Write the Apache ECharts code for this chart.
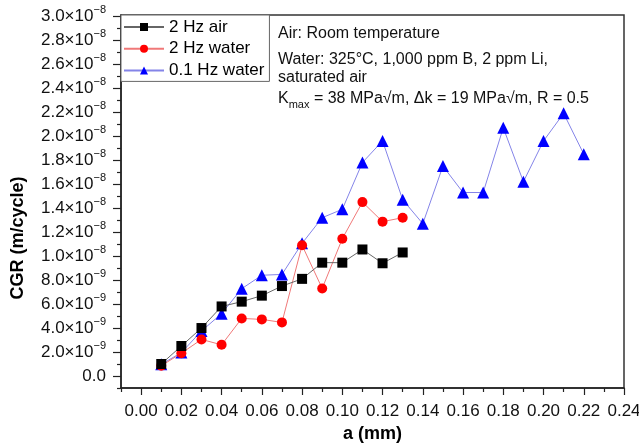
<!DOCTYPE html>
<html>
<head>
<meta charset="utf-8">
<script src="https://cdn.jsdelivr.net/npm/echarts@6/dist/echarts.min.js"></script>
<style>
  html, body { margin: 0; padding: 0; background: #fff; }
  #chart { width: 639px; height: 446px; }
</style>
</head>
<body>
<div id="chart"></div>
<script>
// crack length a (mm)
var aValues = [0.01, 0.02, 0.03, 0.04, 0.05, 0.06, 0.07, 0.08, 0.09, 0.10, 0.11, 0.12, 0.13,
    0.14, 0.15, 0.16, 0.17, 0.18, 0.19, 0.20, 0.21, 0.22];
// CGR (m/cycle)
var air2Hz = [1.0e-9, 2.5e-9, 4.0e-9, 5.8e-9, 6.2e-9, 6.7e-9, 7.5e-9, 8.1e-9, 9.45e-9, 9.45e-9,
    1.055e-8, 9.4e-9, 1.03e-8];
var water2Hz = [0.85e-9, 1.9e-9, 3.05e-9, 2.6e-9, 4.8e-9, 4.72e-9, 4.47e-9, 1.09e-8, 7.3e-9,
    1.145e-8, 1.45e-8, 1.287e-8, 1.32e-8];
var water01Hz = [0.97e-9, 1.95e-9, 3.75e-9, 5.2e-9, 7.28e-9, 8.4e-9, 8.47e-9, 1.106e-8, 1.32e-8,
    1.39e-8, 1.78e-8, 1.96e-8, 1.47e-8, 1.27e-8, 1.75e-8, 1.53e-8, 1.53e-8, 2.07e-8, 1.62e-8,
    1.96e-8, 2.19e-8, 1.85e-8];

var xMajor = [0, 0.02, 0.04, 0.06, 0.08, 0.10, 0.12, 0.14, 0.16, 0.18, 0.20, 0.22, 0.24];
var xMinor = [-0.01, 0.01, 0.03, 0.05, 0.07, 0.09, 0.11, 0.13, 0.15, 0.17, 0.19, 0.21, 0.23];
var yMajor = [0, 2e-9, 4e-9, 6e-9, 8e-9, 1e-8, 1.2e-8, 1.4e-8, 1.6e-8, 1.8e-8, 2.0e-8, 2.2e-8,
    2.4e-8, 2.6e-8, 2.8e-8, 3.0e-8];
var yMinor = [-1e-9, 1e-9, 3e-9, 5e-9, 7e-9, 9e-9, 1.1e-8, 1.3e-8, 1.5e-8, 1.7e-8, 1.9e-8,
    2.1e-8, 2.3e-8, 2.5e-8, 2.7e-8, 2.9e-8];

function pairs(ys) {
    return ys.map(function (y, i) { return [aValues[i], y]; });
}

function sciLabel(v) {
    if (Math.abs(v) < 1e-13) {
        return '{m|0.0}';
    }
    var exp = Math.floor(Math.log10(v) + 1e-9);
    var mant = (v / Math.pow(10, exp)).toFixed(1);
    return '{m|' + mant + '×10}{s|−' + (-exp) + '}';
}

var FONT = '"Liberation Sans", Arial, Helvetica, sans-serif';
var tickLine = { color: '#222', width: 1.2 };
var chart = echarts.init(document.getElementById('chart'));

var option = {
    animation: false,
    textStyle: { fontFamily: FONT },
    grid: {
        left: 121, right: 15, top: 15, bottom: 58,
        show: true, borderColor: '#333', borderWidth: 1.5,
        outerBoundsMode: 'none'
    },
    legend: {
        orient: 'vertical',
        left: 121, top: 15,
        padding: [3, 5, 2, 2],
        itemGap: 3.7,
        itemWidth: 40,
        itemHeight: 10,
        borderColor: '#666',
        borderWidth: 1,
        backgroundColor: '#fff',
        textStyle: { fontSize: 17, lineHeight: 18, color: '#000', fontFamily: FONT },
        data: ['2 Hz air', '2 Hz water', '0.1 Hz water']
    },
    xAxis: [{
        type: 'value',
        min: -0.01, max: 0.24,
        name: 'a (mm)',
        nameLocation: 'middle',
        nameGap: 36,
        nameTextStyle: { fontSize: 18, fontWeight: 'bold', color: '#000', fontFamily: FONT },
        axisLine: { show: true, onZero: false, lineStyle: { color: '#222', width: 1.5 } },
        axisTick: { show: true, customValues: xMajor, length: 7, lineStyle: tickLine },
        axisLabel: {
            customValues: xMajor, margin: 15, fontSize: 17, color: '#111',
            formatter: function (v) { return v.toFixed(2); }
        },
        splitLine: { show: false }
    }, {
        type: 'value',
        position: 'bottom',
        min: -0.01, max: 0.24,
        axisLine: { show: false, onZero: false },
        axisTick: { show: true, customValues: xMinor, length: 4, lineStyle: tickLine },
        axisLabel: { show: false },
        splitLine: { show: false }
    }],
    yAxis: [{
        type: 'value',
        min: -1e-9, max: 3.01e-8,
        name: 'CGR (m/cycle)',
        nameLocation: 'middle',
        nameGap: 94,
        nameTextStyle: {
            fontSize: 18, fontWeight: 'bold', color: '#000', fontFamily: FONT,
            padding: [0, 73, 0, 0]
        },
        axisLine: { show: true, onZero: false, lineStyle: { color: '#222', width: 1.5 } },
        axisTick: { show: true, customValues: yMajor, length: 8, lineStyle: tickLine },
        axisLabel: {
            customValues: yMajor, margin: 15, color: '#111',
            formatter: sciLabel,
            rich: {
                m: { fontSize: 17, lineHeight: 24, color: '#111', fontFamily: FONT },
                s: { fontSize: 11, lineHeight: 11, verticalAlign: 'top', color: '#111', fontFamily: FONT }
            }
        },
        splitLine: { show: false }
    }, {
        type: 'value',
        position: 'left',
        offset: 0,
        min: -1e-9, max: 3.01e-8,
        axisLine: { show: false, onZero: false },
        axisTick: { show: true, customValues: yMinor, length: 4, lineStyle: tickLine },
        axisLabel: { show: false },
        splitLine: { show: false }
    }],
    graphic: [{
        type: 'group',
        left: 278, top: 26,
        children: [{
            type: 'text', x: 0, y: 10,
            style: { text: 'Air: Room temperature', font: '16px ' + FONT, fill: '#111', verticalAlign: 'middle' }
        }, {
            type: 'text', x: 0, y: 36,
            style: { text: 'Water: 325°C, 1,000 ppm B, 2 ppm Li,', font: '16px ' + FONT, fill: '#111', verticalAlign: 'middle' }
        }, {
            type: 'text', x: 0, y: 54,
            style: { text: 'saturated air', font: '16px ' + FONT, fill: '#111', verticalAlign: 'middle' }
        }, {
            type: 'text', x: 0, y: 75,
            style: {
                text: '{k|K}{sub|max}{k| = 38 MPa√m, Δk = 19 MPa√m, R = 0.5}',
                verticalAlign: 'middle',
                rich: {
                    k: { fontSize: 16, lineHeight: 22, fontFamily: FONT, fill: '#111' },
                    sub: { fontSize: 11, lineHeight: 11, verticalAlign: 'bottom', fontFamily: FONT, fill: '#111' }
                }
            }
        }]
    }],
    series: [{
        name: '2 Hz air',
        type: 'line',
        data: pairs(air2Hz),
        symbol: 'rect',
        symbolSize: 10,
        itemStyle: { color: '#000' },
        lineStyle: { color: '#666', width: 1 },
        z: 4
    }, {
        name: '2 Hz water',
        type: 'line',
        data: pairs(water2Hz),
        symbol: 'circle',
        symbolSize: 10,
        itemStyle: { color: '#ff0000' },
        lineStyle: { color: '#f07878', width: 1 },
        z: 3
    }, {
        name: '0.1 Hz water',
        type: 'line',
        data: pairs(water01Hz),
        symbol: 'triangle',
        symbolSize: 12,
        itemStyle: { color: '#0000ff' },
        lineStyle: { color: '#8484e8', width: 1 },
        z: 2
    }]
};
chart.setOption(option);
</script>
</body>
</html>
